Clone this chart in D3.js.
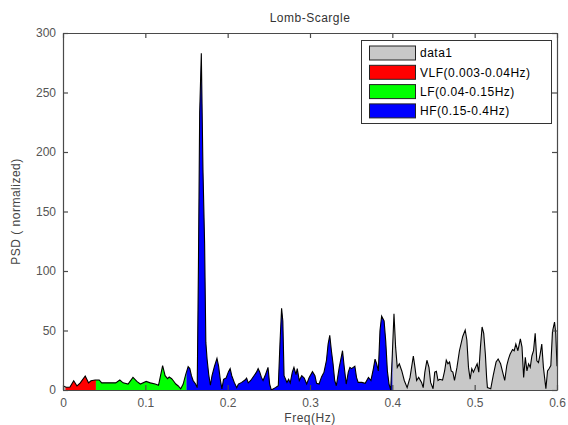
<!DOCTYPE html>
<html lang="en">
<head>
<meta charset="UTF-8">
<title>Lomb-Scargle</title>
<script src="https://d3js.org/d3.v7.min.js"></script>
<style>
    body { margin: 0; background: #fff; }
    text { font-family: Arial, "Liberation Sans", sans-serif; }
</style>
</head>
<body>
<div id="chart"></div>
<script>
    // frequency (Hz) and normalized PSD
    var freq = [0.000, 0.004, 0.0085, 0.013, 0.017, 0.021, 0.027, 0.031, 0.034, 0.039,
        0.044, 0.047, 0.057, 0.064, 0.069, 0.073, 0.079, 0.085, 0.090, 0.094,
        0.101, 0.106, 0.112, 0.116, 0.121, 0.124, 0.127, 0.129, 0.132, 0.134,
        0.137, 0.140, 0.143, 0.146, 0.149, 0.152, 0.154, 0.156, 0.158, 0.161,
        0.163, 0.1645, 0.166, 0.168, 0.170, 0.172, 0.1735, 0.175, 0.177, 0.179,
        0.181, 0.184, 0.187, 0.189, 0.191, 0.193, 0.195, 0.198, 0.201, 0.203,
        0.205, 0.208, 0.211, 0.213, 0.217, 0.221, 0.223, 0.225, 0.228, 0.232,
        0.235, 0.237, 0.239, 0.241, 0.243, 0.246, 0.249, 0.251, 0.253, 0.258,
        0.2615, 0.2635, 0.2655, 0.267, 0.2685, 0.272, 0.274, 0.276, 0.2785, 0.2805,
        0.283, 0.2845, 0.287, 0.290, 0.293, 0.296, 0.299, 0.303, 0.306, 0.308,
        0.311, 0.314, 0.317, 0.320, 0.322, 0.324, 0.326, 0.328, 0.330, 0.332,
        0.3355, 0.3375, 0.3395, 0.3415, 0.344, 0.3465, 0.3485, 0.3505, 0.3525, 0.3545,
        0.3565, 0.3585, 0.363, 0.367, 0.371, 0.374, 0.377, 0.379, 0.381, 0.383,
        0.385, 0.387, 0.390, 0.392, 0.394, 0.396, 0.398, 0.400, 0.402, 0.404,
        0.406, 0.4085, 0.4115, 0.4145, 0.418, 0.4215, 0.4255, 0.4275, 0.4295, 0.432,
        0.4355, 0.4375, 0.4395, 0.442, 0.4445, 0.4465, 0.4495, 0.4515, 0.4535, 0.4555,
        0.4575, 0.461, 0.4635, 0.4655, 0.4675, 0.4695, 0.4715, 0.4735, 0.4755, 0.4785,
        0.4815, 0.4855, 0.4885, 0.4905, 0.4925, 0.4945, 0.4965, 0.4985, 0.501, 0.503,
        0.505, 0.507, 0.509, 0.511, 0.513, 0.5145, 0.5155, 0.5195, 0.5225, 0.526,
        0.5285, 0.5315, 0.534, 0.5365, 0.539, 0.541, 0.543, 0.546, 0.548, 0.550,
        0.5525, 0.5555, 0.5575, 0.5595, 0.5615, 0.5635, 0.5655, 0.5675, 0.5695, 0.5715,
        0.5735, 0.5755, 0.5775, 0.5795, 0.5815, 0.5835, 0.5865, 0.5885, 0.5905, 0.5925,
        0.5945, 0.597, 0.5985, 0.600];

    var psd = [3.4, 2.3, 2.5, 7.8, 3.4, 6, 11.8, 6, 7.8, 8.4,
        8.4, 6, 6, 6, 8.4, 6, 5, 10.6, 7, 5,
        7.2, 6, 5, 4, 20.4, 12, 9.5, 10.9, 9.5, 7.8,
        5, 3.4, 1, 5, 13, 19.6, 18, 12, 8, 5,
        2, 105, 233, 283, 185, 123, 40, 26, 13, 4,
        12, 20, 26.6, 20, 9, 1, 9, 10, 15.4, 18,
        12, 6.4, 2, 5, 6.4, 8.4, 10, 6, 8, 12,
        15, 18, 15, 10.6, 8, 13, 19, 5, 0, 2,
        3.6, 38.6, 68.6, 58, 12, 6.4, 9, 6, 15, 19,
        13, 18, 8, 12, 10, 5, 10.6, 15.4, 12, 5.6,
        5, 11, 15, 25, 38.6, 46, 33, 22, 8, 3.6,
        19, 26, 33, 20, 5, 15, 19, 18, 19, 20,
        10.6, 6.4, 6.4, 5.6, 10.6, 8, 18, 26, 22, 16,
        50, 62, 58, 41, 16, 5, 0, 30, 64, 36,
        19, 22, 16, 8, 2, 10.6, 28.6, 19, 8, 10.6,
        6.4, 2, 15, 25, 19, 6.4, 1, 15, 15.7, 8,
        9, 8.4, 16, 25, 22, 23.5, 16, 15, 8, 19,
        33, 45, 50.4, 42, 19, 9, 18, 15, 19, 22,
        15, 36, 53, 47.6, 30, 10.6, 2, 1, 12, 23.5,
        26, 22, 15, 8, 20.5, 26, 30, 34, 33, 38.6,
        33, 43, 36, 10.6, 27.5, 16, 22, 19, 28.6, 33,
        47.6, 24.5, 23, 30, 38.6, 19, 1, 16, 18, 20.5,
        49, 57, 47.6, 20];

    var bandNames = ["VLF(0.003-0.04Hz)", "LF(0.04-0.15Hz)", "HF(0.15-0.4Hz)"];
    var bandLo = [0.003, 0.04, 0.15];
    var bandHi = [0.04, 0.15, 0.4];
    var bandColors = ["#ff0000", "#00ff00", "#0000ff"];

    var xTicks = [0, 0.1, 0.2, 0.3, 0.4, 0.5, 0.6];
    var yTicks = [0, 50, 100, 150, 200, 250, 300];

    var width = 568, height = 425;
    var margin = {top: 33, right: 11, bottom: 35, left: 63};

    var data = freq.map((f, i) => ({f: f, p: psd[i]}));

    var svg = d3.select("#chart").append("svg")
        .attr("width", width)
        .attr("height", height);

    var x = d3.scaleLinear().domain([0, 0.6]).range([margin.left, width - margin.right]);
    var y = d3.scaleLinear().domain([0, 300]).range([height - margin.bottom, margin.top]);

    var defs = svg.append("defs");
    defs.append("clipPath").attr("id", "plotclip")
        .append("rect")
        .attr("x", x(0)).attr("y", y(300))
        .attr("width", x(0.6) - x(0)).attr("height", y(0) - y(300));

    bandLo.forEach((lo, i) => {
        defs.append("clipPath").attr("id", "band" + i)
            .append("rect")
            .attr("x", x(lo)).attr("y", y(300))
            .attr("width", x(bandHi[i]) - x(lo)).attr("height", y(0) - y(300));
    });

    var area = d3.area()
        .x(d => x(d.f))
        .y0(y(0))
        .y1(d => y(d.p));

    var line = d3.line()
        .x(d => x(d.f))
        .y(d => y(d.p));

    var plot = svg.append("g").attr("clip-path", "url(#plotclip)");

    // data1: whole spectrum in grey
    plot.append("path")
        .datum(data)
        .attr("d", area)
        .attr("fill", "#c8c8c8");

    // coloured bands
    bandLo.forEach((lo, i) => {
        plot.append("g").attr("clip-path", "url(#band" + i + ")")
            .append("path")
            .datum(data)
            .attr("d", area)
            .attr("fill", bandColors[i]);
    });

    plot.append("path")
        .datum(data)
        .attr("d", line)
        .attr("fill", "none")
        .attr("stroke", "#000")
        .attr("stroke-width", 1.1);

    // axes (MATLAB box style: ticks inside on all four sides)
    var axisColor = "#4a4a4a";
    var tickLen = 5;

    var axB = svg.append("g").attr("transform", `translate(0,${y(0)})`)
        .call(d3.axisBottom(x).tickValues(xTicks).tickSizeInner(-tickLen).tickSizeOuter(0).tickPadding(8)
            .tickFormat(d => d === 0 ? "0" : d3.format(".1f")(d)));
    var axT = svg.append("g").attr("transform", `translate(0,${y(300)})`)
        .call(d3.axisTop(x).tickValues(xTicks).tickSizeInner(-tickLen).tickSizeOuter(0).tickFormat(""));
    var axL = svg.append("g").attr("transform", `translate(${x(0)},0)`)
        .call(d3.axisLeft(y).tickValues(yTicks).tickSizeInner(-tickLen).tickSizeOuter(0).tickPadding(7));
    var axR = svg.append("g").attr("transform", `translate(${x(0.6)},0)`)
        .call(d3.axisRight(y).tickValues(yTicks).tickSizeInner(-tickLen).tickSizeOuter(0).tickFormat(""));

    [axB, axT, axL, axR].forEach(g => {
        g.select(".domain").attr("stroke", axisColor).attr("stroke-width", 1.2);
        g.selectAll(".tick line").attr("stroke", axisColor).attr("stroke-width", 1.2);
        g.selectAll(".tick text").attr("fill", "#555").style("font-size", "12px")
            .style("font-family", "Arial, 'Liberation Sans', sans-serif");
    });

    svg.append("text")
        .attr("x", (x(0) + x(0.6)) / 2)
        .attr("y", 22)
        .attr("text-anchor", "middle")
        .attr("fill", "#333")
        .style("font-size", "12px")
        .style("letter-spacing", "0.5px")
        .text("Lomb-Scargle");

    svg.append("text")
        .attr("x", (x(0) + x(0.6)) / 2)
        .attr("y", 422)
        .attr("text-anchor", "middle")
        .attr("fill", "#444")
        .style("font-size", "12px")
        .style("letter-spacing", "0.5px")
        .text("Freq(Hz)");

    svg.append("text")
        .attr("transform", `translate(20,${(y(0) + y(300)) / 2}) rotate(-90)`)
        .attr("text-anchor", "middle")
        .attr("fill", "#444")
        .style("font-size", "12px")
        .style("letter-spacing", "0.5px")
        .text("PSD ( normalized)");

    // legend
    var legendNames = ["data1"].concat(bandNames);
    var legendColors = ["#c8c8c8"].concat(bandColors);
    var legend = svg.append("g");
    legend.append("rect")
        .attr("x", 361.5).attr("y", 40.5)
        .attr("width", 190).attr("height", 83)
        .attr("fill", "#fff")
        .attr("stroke", "#333");
    legendNames.forEach((name, i) => {
        var cy = 53 + i * 19.3;
        legend.append("rect")
            .attr("x", 369.5).attr("y", cy - 7)
            .attr("width", 46).attr("height", 14)
            .attr("fill", legendColors[i])
            .attr("stroke", "#222");
        legend.append("text")
            .attr("x", 420).attr("y", cy)
            .attr("dy", "0.36em")
            .attr("fill", "#000")
            .style("font-size", "12px")
            .style("letter-spacing", "0.5px")
            .text(name);
    });
</script>
</body>
</html>
